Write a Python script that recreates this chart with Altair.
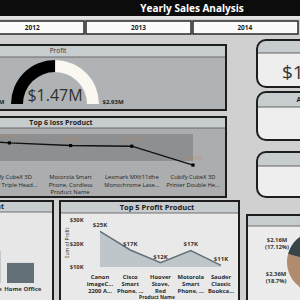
import math
import altair as alt
import pandas as pd

# ---------------- data ----------------
title_text = "Yearly Sales Analysis"
years = ["2012", "2013", "2014"]

gauge_min = 0.0
gauge_value = 1.47
gauge_max = 2.93

loss_products = [
    "Bush Advantage Collection Racetrack Conference Table",
    "Chromcraft Bull-Nose Wood Oval Conference Tables & Bases",
    "Cubify CubeX 3D Printer Triple Head Print",
    "Motorola Smart Phone, Cordless",
    "Lexmark MX611dhe Monochrome Laser Printer",
    "Cubify CubeX 3D Printer Double Head Print",
]
loss_labels = [
    "Bush Advantage|Collection Rac...",
    "Chromcraft Bull-|Nose Wood Ov...",
    "Cubify CubeX 3D|Printer Triple Head...",
    "Motorola Smart|Phone, Cordless",
    "Lexmark MX611dhe|Monochrome Lase...",
    "Cubify CubeX 3D|Printer Double He...",
]
loss_values = [-1934, -2876, -3840, -4447, -4590, -8880]

profit_products = [
    "Canon imageCLASS 2200 Advanced Copier",
    "Cisco Smart Phone, Full Size",
    "Hoover Stove, Red",
    "Motorola Smart Phone, Full Size",
    "Sauder Classic Bookcase, Traditional",
]
profit_labels = [
    "Canon|imageC...|2200 A...",
    "Cisco|Smart|Phone, ...",
    "Hoover|Stove,|Red",
    "Motorola|Smart|Phone, ...",
    "Sauder|Classic|Bookca...",
]
profit_values = [25200, 17238, 11807, 17027, 10673]
profit_ticks = [10000, 20000, 30000]

segments = ["Consumer", "Corporate", "Home Office"]
segment_profit = [749000, 442000, 277000]

markets = ["APAC", "EU", "US", "LATAM", "EMEA", "Africa", "Canada"]
market_sales = [3.59, 2.94, 2.36, 2.16, 0.81, 0.78, 0.07]
market_share = ["28.4%", "23.3%", "18.7%", "17.12%", "6.4%", "6.2%", "0.5%"]
market_colors = ["#8a9aa1", "#637078", "#b08b6e", "#3a4448", "#cfc2b3", "#7d8b91", "#9c9c9c"]

total_sales_text = "$12.64M"

FONT = "Open Sans"
one = pd.DataFrame({"k": [0]})


def box(x, x2, y, y2, fill="#ffffff", opacity=1.0, stroke=None, sw=0.0, r=0, top_only=False):
    kw = dict(fill=fill, fillOpacity=opacity)
    if stroke:
        kw.update(stroke=stroke, strokeWidth=sw)
    if r:
        if top_only:
            kw.update(cornerRadiusTopLeft=r, cornerRadiusTopRight=r)
        else:
            kw.update(cornerRadius=r)
    return alt.Chart(one).mark_rect(**kw).encode(
        x=alt.value(x), x2=alt.value(x2), y=alt.value(y), y2=alt.value(y2)
    )


def hline(x, x2, y, color="#333333", w=1.0):
    return alt.Chart(one).mark_rule(color=color, strokeWidth=w).encode(
        x=alt.value(x), x2=alt.value(x2), y=alt.value(y)
    )


def label(txt, x, y, size=7, weight="normal", color="#222222", align="center", angle=0):
    kw = dict(text=txt, fontSize=size, fontWeight=weight, color=color, align=align,
              baseline="middle", font=FONT)
    if angle:
        kw["angle"] = angle
    return alt.Chart(one).mark_text(**kw).encode(x=alt.value(x), y=alt.value(y))


def panel(x, x2, y, y2, hy2, interior, interior_op=1.0):
    return [
        box(x, x2, y, y2, fill=interior, opacity=interior_op),
        box(x, x2, y, hy2, fill="#c7ccce"),
        hline(x, x2, hy2, color="#555555", w=0.8),
        box(x, x2, y, y2, fill="#ffffff", opacity=0.0, stroke="#1e1e1e", sw=2),
    ]


def rpanel(x, x2, y, y2, hy2):
    return [
        box(x, x2, y, y2, fill="#eeeeee", r=9),
        box(x, x2, y, hy2, fill="#c7ccce", r=9, top_only=True),
        hline(x, x2, hy2, color="#444444", w=0.8),
        box(x, x2, y, y2, fill="#ffffff", opacity=0.0, stroke="#1e1e1e", sw=2, r=9),
    ]


layers = []

# ---------------- header & slicers ----------------
layers.append(box(0, 300, 0, 16, fill="#0c0c0c"))
layers.append(box(0, 300, 16, 19, fill="#e2e2e2"))
layers.append(label(title_text, 192, 8.5, size=10, weight="bold", color="#ffffff"))

years_df = pd.DataFrame({"year": years})
year_scale = alt.Scale(domain=years, range=[-21, 298], paddingInner=2 / 107, paddingOuter=0)
layers.append(
    alt.Chart(years_df).mark_rect(fill="#fbfbfb", stroke="#2a2a2a", strokeWidth=1.5).encode(
        x=alt.X("year:N", scale=year_scale, axis=None),
        y=alt.value(21), y2=alt.value(34),
    )
)
layers.append(
    alt.Chart(years_df).mark_text(fontSize=6.5, fontWeight="bold", color="#222222", font=FONT).encode(
        x=alt.X("year:N", scale=year_scale, axis=None),
        y=alt.value(28), text="year:N",
    )
)

# ---------------- profit gauge ----------------
layers += panel(-3, 226, 45, 110, 57, "#aeb1b3", 0.95)
layers.append(label("Profit", 58, 51, size=6.5, weight="normal", color="#333333"))

gauge_df = pd.DataFrame({
    "part": ["value", "rest"],
    "start": [gauge_min, gauge_value],
    "end": [gauge_value, gauge_max],
})
layers.append(
    alt.Chart(gauge_df).mark_arc(radius=44, radius2=32).encode(
        theta=alt.Theta("start:Q", scale=alt.Scale(domain=[gauge_min, gauge_max],
                                                   range=[1.5 * math.pi, 2.5 * math.pi])),
        theta2="end:Q",
        color=alt.Color("part:N", scale=alt.Scale(domain=["value", "rest"],
                                                  range=["#000000", "#fbf7f1"]), legend=None),
        x=alt.value(55), y=alt.value(104),
    )
)
layers.append(label(f"${gauge_value:.2f}M", 55, 96, size=16, color="#2f2f2f"))
layers.append(label(f"${gauge_max:.2f}M", 113, 102, size=6, weight="bold", color="#222222"))
layers.append(label(f"${gauge_min:.0f}M", 4.5, 102, size=6, weight="bold", color="#222222", align="right"))

# ---------------- top 6 loss product ----------------
layers += panel(-3, 226, 117, 197, 128, "#a9abac", 0.95)
layers.append(label("Top 6 loss Product", 61, 122.5, size=7, weight="bold", color="#1e1e1e"))
layers.append(box(0, 193, 134, 161, fill="#5a5a5a", opacity=0.35))

loss_df = pd.DataFrame({"product": loss_products, "label": loss_labels, "value": loss_values})
loss_df["vlabel"] = [f"-${abs(v) / 1000:.2f}K" for v in loss_values]
lx = alt.X("product:N", sort=loss_products,
           scale=alt.Scale(domain=loss_products, range=[-113, 193], padding=0), axis=None)
ly = alt.Y("value:Q", scale=alt.Scale(domain=[-10000, 0], range=[170, 126]), axis=None)
layers.append(alt.Chart(loss_df).mark_line(color="#111111", strokeWidth=1.4).encode(x=lx, y=ly))
layers.append(alt.Chart(loss_df).mark_point(shape="square", filled=True, size=10, color="#000000", opacity=1).encode(x=lx, y=ly))
layers.append(alt.Chart(loss_df).mark_text(dy=-7, fontSize=5.5, color="#c7834e", opacity=0.45, font=FONT).encode(x=lx, y=ly, text="vlabel:N"))
layers.append(
    alt.Chart(loss_df).mark_text(fontSize=5.8, color="#1e1e1e", baseline="top", lineBreak="|",
                                 lineHeight=7.5, font=FONT).encode(x=lx, y=alt.value(174), text="label:N")
)
layers.append(label("Product Name", 70, 191.5, size=5.8, color="#1e1e1e"))

# ---------------- right column cards ----------------
layers += rpanel(257, 310, 40, 87, 53)
layers.append(label(total_sales_text, 282, 73, size=19, color="#333333", align="left"))
layers += rpanel(257, 310, 92, 140, 107)
layers.append(label("Avg Sales", 296.5, 99.5, size=7, weight="bold", color="#1e1e1e", align="left"))
layers += rpanel(257, 310, 152, 197, 166)

# ---------------- bottom-left: profit by segment ----------------
layers += panel(-3, 53, 201, 303, 212, "#e7e7e7")
layers.append(label("Profit by Segment", 4, 206.5, size=7, weight="bold", color="#1e1e1e", align="right"))
seg_df = pd.DataFrame({"segment": segments, "profit": segment_profit})
sx = alt.X("segment:N", sort=segments,
           scale=alt.Scale(domain=segments, range=[-67.25, 40.75], paddingInner=0.2, paddingOuter=0.2),
           axis=None)
layers.append(
    alt.Chart(seg_df).mark_bar(color="#637078").encode(
        x=sx, y=alt.Y("profit:Q", scale=alt.Scale(domain=[0, 800000], range=[283, 225]), axis=None),
        y2=alt.datum(0),
    )
)
layers.append(
    alt.Chart(seg_df).mark_text(fontSize=6, fontWeight="bold", color="#333333", font=FONT).encode(
        x=sx, y=alt.value(288.5), text="segment:N"
    )
)

# ---------------- bottom-middle: top 5 profit product ----------------
layers += panel(60, 239, 201, 303, 213, "#e9e9e9")
layers.append(label("Top 5 Profit Product", 157, 207.5, size=7.5, weight="bold", color="#1e1e1e"))
prof_df = pd.DataFrame({"product": profit_products, "label": profit_labels, "value": profit_values})
prof_df["vlabel"] = [f"${round(v / 1000)}K" for v in profit_values]
px = alt.X("product:N", sort=profit_products,
           scale=alt.Scale(domain=profit_products, range=[100, 221], padding=0), axis=None)
pscale = alt.Scale(domain=[10000, 30000], range=[267, 220], zero=False)
py = alt.Y("value:Q", scale=pscale, axis=None)
layers.append(alt.Chart(prof_df).mark_area(color="#b9c2c6", opacity=0.9).encode(x=px, y=py, y2=alt.datum(10000)))
layers.append(alt.Chart(prof_df).mark_line(color="#637078", strokeWidth=1.5).encode(x=px, y=py))
layers.append(
    alt.Chart(prof_df).mark_text(dy=-6, fontSize=6, fontWeight="bold", color="#333333", font=FONT).encode(
        x=px, y=py, text="vlabel:N"
    )
)
tick_df = pd.DataFrame({"value": profit_ticks})
tick_df["t"] = [f"${v // 1000}K" for v in profit_ticks]
layers.append(
    alt.Chart(tick_df).mark_text(fontSize=5.8, fontWeight="bold", color="#333333", align="right", font=FONT).encode(
        x=alt.value(83.5), y=py, text="t:N"
    )
)
layers.append(label("Sum of Profit", 67, 243, size=5, color="#333333", angle=270))
layers.append(
    alt.Chart(prof_df).mark_text(fontSize=5.8, fontWeight="bold", color="#2a2a2a", baseline="top",
                                 lineBreak="|", lineHeight=7, font=FONT).encode(
        x=px, y=alt.value(273.5), text="label:N"
    )
)
layers.append(label("Product Name", 157, 297, size=5, weight="bold", color="#2a2a2a"))

# ---------------- bottom-right: sales by market pie ----------------
layers += panel(247, 310, 215, 303, 226, "#ececec")
pie_df = pd.DataFrame({"market": markets, "sales": market_sales, "share": market_share})
pie_df["lab"] = [f"${s:.2f}M|({p})" for s, p in zip(market_sales, market_share)]
rot = 0.58
theta_enc = alt.Theta("sales:Q", stack=True, scale=alt.Scale(range=[rot, rot + 2 * math.pi]))
layers.append(
    alt.Chart(pie_df).mark_arc(radius=31).encode(
        theta=theta_enc,
        order=alt.Order("sales:Q", sort="descending"),
        color=alt.Color("market:N", scale=alt.Scale(domain=markets, range=market_colors), legend=None),
        x=alt.value(318), y=alt.value(262),
    )
)
# outside data labels (Power BI style) for the two slices visible on the left
for mk, lx_, ly_ in [("LATAM", 277, 240), ("US", 276, 274)]:
    layers.append(
        alt.Chart(pie_df).transform_filter(alt.datum.market == mk)
        .mark_text(fontSize=5.8, fontWeight="bold", color="#333333", lineBreak="|", lineHeight=6.5, font=FONT)
        .encode(text="lab:N", x=alt.value(lx_), y=alt.value(ly_))
    )

chart = (
    alt.layer(*layers)
    .resolve_scale(x="independent", y="independent", theta="independent", color="independent")
    .properties(width=300, height=300, background="#d0d0d0", padding=0,
                autosize=alt.AutoSizeParams(type="none"))
    .configure_view(stroke=None)
)

chart.save("out.html", embed_options={"renderer": "svg", "actions": False})
